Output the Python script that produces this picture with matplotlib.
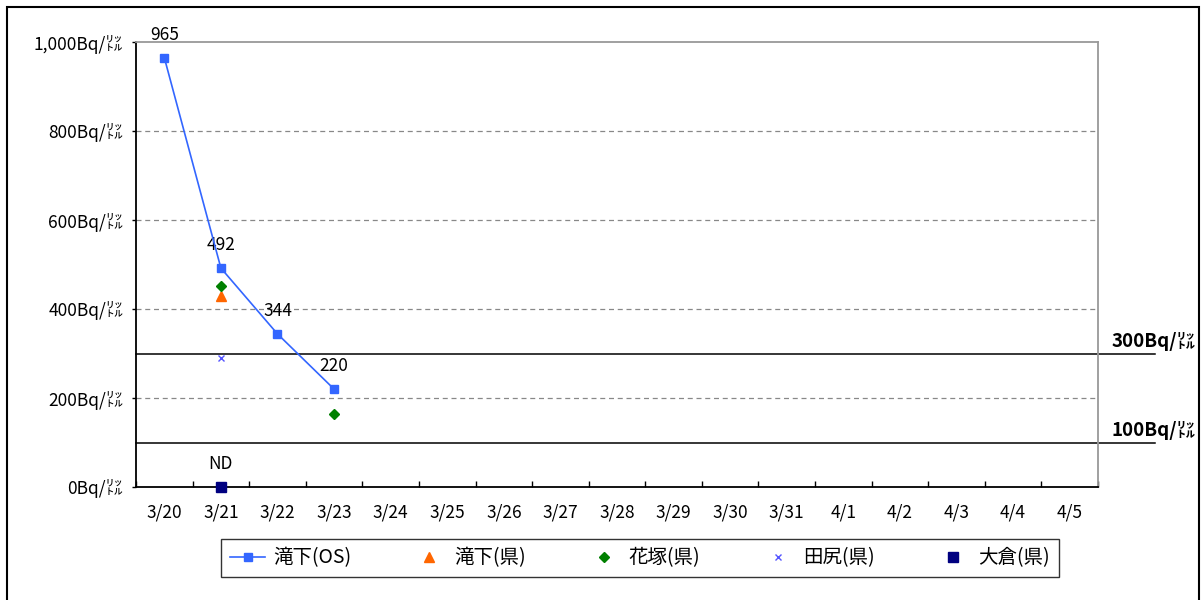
import matplotlib
matplotlib.use("Agg")
import matplotlib.pyplot as plt
from matplotlib.patches import Rectangle
import numpy as np

plt.rcParams['font.family'] = ['Noto Sans CJK JP', 'DejaVu Sans']

categories = ["3/20", "3/21", "3/22", "3/23", "3/24", "3/25", "3/26", "3/27", "3/28",
              "3/29", "3/30", "3/31", "4/1", "4/2", "4/3", "4/4", "4/5"]
takishita_os_dates = ["3/20", "3/21", "3/22", "3/23"]
takishita_os = [965, 492, 344, 220]
takishita_ken_dates = ["3/21"]
takishita_ken = [430]
hanatsuka_dates = ["3/21", "3/23"]
hanatsuka = [452, 164]
tajiri_dates = ["3/21"]
tajiri = [290]
okura_dates = ["3/21"]
okura = [0]
okura_labels = ["ND"]
y_ticks = [0, 200, 400, 600, 800, 1000]
limits = [300, 100]

idx = {c: i for i, c in enumerate(categories)}
def pos(dates):
    return [idx[d] for d in dates]

W, H = 1201, 600
fig = plt.figure(figsize=(W / 100, H / 100), dpi=100)
# outer chart border
fig.patches.append(Rectangle((7 / W, -0.1), (1199 - 7) / W, 1.1 - 7 / H,
                             transform=fig.transFigure, fill=False,
                             edgecolor='black', linewidth=1.5))

L, R, T, B = 136, 1098, 42, 487
ax = fig.add_axes([L / W, 1 - B / H, (R - L) / W, (B - T) / H])

ax.set_xlim(-0.5, len(categories) - 0.5)
ax.set_ylim(0, 1000)

for y in [200, 400, 600, 800]:
    ax.axhline(y, color='#888888', linestyle=(0, (4, 3)), linewidth=0.9, zorder=1)

ext = (1155 - L) / (R - L)
for v in limits:
    ax.axhline(v, xmin=0, xmax=ext, color='black', linewidth=1.1, clip_on=False, zorder=2)
    ax.annotate(f"{v}Bq/㍑", xy=(1196 / W, v), xycoords=('figure fraction', 'data'),
                xytext=(0, 2), textcoords='offset points', ha='right', va='bottom',
                fontsize=13.5, fontweight='bold', annotation_clip=False)

l1, = ax.plot(pos(takishita_os_dates), takishita_os, color='#3366ff', linewidth=1.2,
              marker='s', markersize=6, zorder=5, label='滝下(OS)')
l2, = ax.plot(pos(takishita_ken_dates), takishita_ken, linestyle='none', marker='^',
              markersize=7, color='#ff6600', zorder=5, label='滝下(県)')
l3, = ax.plot(pos(hanatsuka_dates), hanatsuka, linestyle='none', marker='D',
              markersize=5, color='#008000', zorder=5, label='花塚(県)')
l4, = ax.plot(pos(tajiri_dates), tajiri, linestyle='none', marker='x',
              markersize=5, markeredgewidth=1, color='#5555ff', zorder=5, label='田尻(県)')
l5, = ax.plot(pos(okura_dates), okura, linestyle='none', marker='s',
              markersize=7.5, color='#000080', zorder=6, clip_on=False, label='大倉(県)')

for x, y in zip(pos(takishita_os_dates), takishita_os):
    ax.annotate(f"{y}", (x, y), xytext=(0, 10), textcoords='offset points',
                ha='center', va='bottom', fontsize=12.5, annotation_clip=False)
for x, y, t in zip(pos(okura_dates), okura, okura_labels):
    ax.annotate(t, (x, y), xytext=(0, 10), textcoords='offset points',
                ha='center', va='bottom', fontsize=12.5, annotation_clip=False)

ax.set_yticks(y_ticks)
ax.set_yticklabels([f"{v:,}Bq/㍑" for v in y_ticks], fontsize=12.5)
ax.set_xticks(range(len(categories)))
ax.set_xticklabels(categories, fontsize=12.5)
ax.set_xticks(np.arange(-0.5, len(categories), 1.0), minor=True)
ax.tick_params(axis='x', which='major', length=0, pad=12)
ax.tick_params(axis='x', which='minor', direction='in', length=4, width=1)
ax.tick_params(axis='y', which='major', direction='out', length=3, width=1, pad=6)

for s in ['left', 'bottom']:
    ax.spines[s].set_color('black')
    ax.spines[s].set_linewidth(1.3)
for s in ['top', 'right']:
    ax.spines[s].set_color('#999999')
    ax.spines[s].set_linewidth(1.3)

leg = fig.legend(handles=[l1, l2, l3, l4, l5], loc='center',
                 bbox_to_anchor=(640 / W, 1 - 558 / H), ncol=5, fontsize=14,
                 frameon=True, fancybox=False, edgecolor='black', columnspacing=3.1,
                 handlelength=1.8, handletextpad=0.4, borderpad=0.45)
leg.get_frame().set_linewidth(1.0)

fig.savefig("out.png", dpi=100)
